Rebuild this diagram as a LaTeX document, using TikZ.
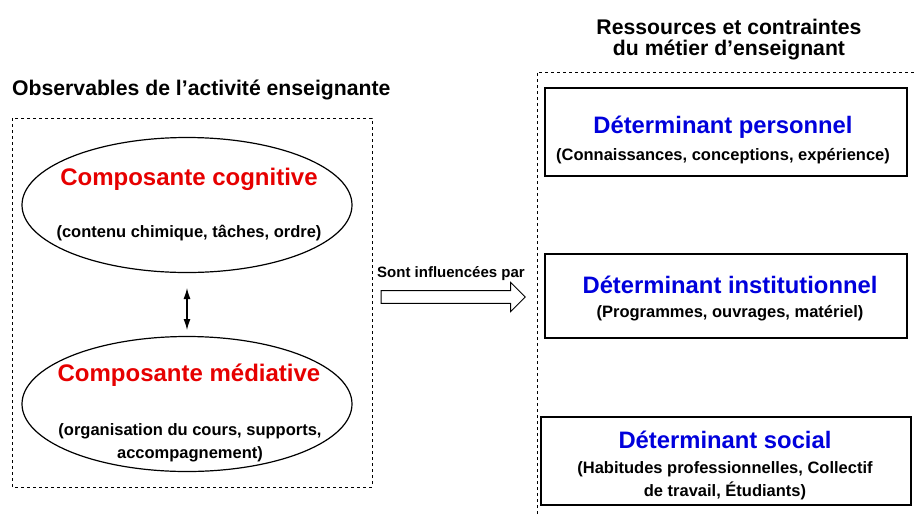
\documentclass[tikz,border=0pt]{standalone}
\usepackage{fontspec}
\setmainfont{Liberation Sans}
\usetikzlibrary{shapes.geometric,shapes.arrows,arrows.meta}
\definecolor{tred}{RGB}{230,0,0}
\definecolor{tblue}{RGB}{0,0,220}
\begin{document}
\begin{tikzpicture}[x=1pt,y=-1pt,
  font=\bfseries,
  dbox/.style={draw,dashed,dash pattern=on 3pt off 3pt,line width=0.9pt},
  ell/.style={draw,ellipse,line width=1.2pt,minimum width=330pt,minimum height=135pt},
  detbox/.style={draw,line width=1.1pt},
  redt/.style={text=tred,font=\bfseries\fontsize{24}{26}\selectfont},
  bluet/.style={text=tblue,font=\bfseries\fontsize{23.8}{26}\selectfont},
  small/.style={font=\bfseries\fontsize{16.5}{23}\selectfont,align=center},
  ttl/.style={font=\bfseries\fontsize{21.2}{21}\selectfont,align=center}]
\useasboundingbox (0,0) rectangle (917,515);
% left dashed box
\draw[dbox] (12,118) rectangle (372,487);
\node[ttl,anchor=west,inner sep=0pt] (t1) at (12,90) {Observables de l’activité enseignante};
\node[ttl] (t2) at (729,40) {Ressources et contraintes\\du métier d’enseignant};
% right dashed box (partial)
\draw[dbox] (537,520) -- (537,72) -- (920,72);
% ellipses
\node[ell] (e1) at (187,205) {};
\node[redt] (c1) at (189,179) {Composante cognitive};
\node[small] (s1) at (189,233) {(contenu chimique, tâches, ordre)};
\node[ell] (e2) at (187,404) {};
\node[redt] (c2) at (189,375) {Composante médiative};
\node[small] (s2) at (190,443) {(organisation du cours, supports,\\accompagnement)};
\coordinate (a1) at (187,288);
\coordinate (a2) at (187,330);
\draw[line width=1.2pt,{Latex[length=11pt,width=7pt]}-{Latex[length=11pt,width=7pt]}] (a1) -- (a2);
% block arrow
\node[font=\bfseries\fontsize{15}{18}\selectfont,anchor=south] (lbl) at (451,284) {Sont influencées par};
\node[single arrow,draw,line width=1pt,minimum height=144pt,minimum width=29pt,single arrow head extend=5pt,inner sep=3.5pt] (arr) at (450,297) {};
% determinant boxes
\node[detbox,minimum width=362pt,minimum height=88pt] (b1) at (726,132) {};
\node[bluet] (d1) at (723,127) {Déterminant personnel};
\node[small] (p1) at (723,156) {(Connaissances, conceptions, expérience)};
\node[detbox,minimum width=362pt,minimum height=84pt] (b2) at (726,296) {};
\node[bluet] (d2) at (730,285) {Déterminant institutionnel};
\node[small] (p2) at (730,313) {(Programmes, ouvrages, matériel)};
\node[detbox,minimum width=370pt,minimum height=88pt] (b3) at (726,461) {};
\node[bluet] (d3) at (725,440) {Déterminant social};
\node[small] (p3) at (725,481) {(Habitudes professionnelles, Collectif\\de travail, Étudiants)};
\end{tikzpicture}
\end{document}
